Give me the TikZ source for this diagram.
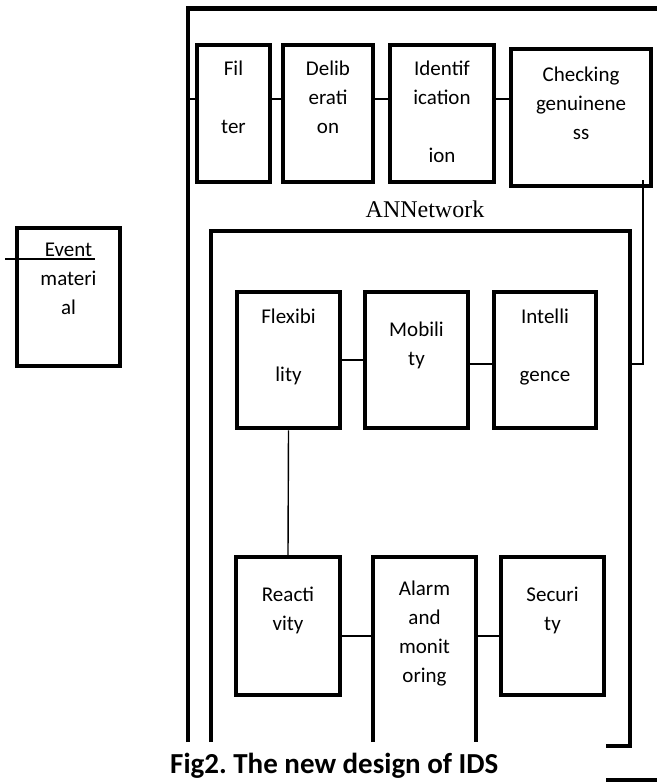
\documentclass[tikz,border=0pt]{standalone}
\usepackage{fontspec}
\setmainfont{Carlito}
\newfontfamily\annfont{Liberation Serif}

\begin{document}
\begin{tikzpicture}[x=1pt, y=-1pt,
  blk/.style={draw, line width=4.5pt, inner sep=0pt},
  txt/.style={anchor=north, align=center, inner sep=0pt,
    font=\fontsize{21}{29}\selectfont, execute at begin node={\rule{0pt}{16pt}}},
  link/.style={line width=1.4pt},
  frame/.style={line width=4.5pt}]
\useasboundingbox (0,0) rectangle (657,782);

% outer frame and the ANNetwork frame
\coordinate (outtop) at (188,8.5);
\draw[frame] (188,742) -- (outtop) -- (657,8.5);
\draw[frame] (211,742) -- (211,231) -- (630,231) -- (630,746) -- (606,746);
\draw[frame] (606,780) -- (657,780);
\node[anchor=base, inner sep=0pt, font=\annfont\fontsize{24}{28}\selectfont] (annlabel) at (425,217) {ANNetwork};

% event material
\node[blk, minimum width=103pt, minimum height=138pt] (event) at (68.5,297) {};
\node[txt] (eventtxt) at (68.5,243) {Event\\materi\\al};
\coordinate (evl) at (5,259);
\coordinate (evr) at (95,259);
\draw[link] (evl) -- (evr);

% top row
\node[blk, minimum width=73pt, minimum height=137pt] (filt) at (233.5,113.5) {};
\node[blk, minimum width=90pt, minimum height=137pt] (delib) at (328,113.5) {};
\node[blk, minimum width=104pt, minimum height=137pt] (ident) at (442,113.5) {};
\node[blk, minimum width=140pt, minimum height=137pt] (check) at (581,117.5) {};
\node[txt] (filttxt) at (233.5,61) {Fil\\\mbox{}\\ter};
\node[txt] (delibtxt) at (328,61) {Delib\\erati\\on};
\node[txt] (identtxt) at (442,61) {Identif\\ication\\\mbox{}\\ion};
\node[txt] (checktxt) at (581,67) {Checking\\genuinene\\ss};
\coordinate (inlet) at (188,99);
\draw[link] (inlet) -- (filt.west |- inlet);
\draw[link] (filt.east |- inlet) -- (delib.west |- inlet);
\draw[link] (delib.east |- inlet) -- (ident.west |- inlet);
\draw[link] (ident.east |- inlet) -- (check.west |- inlet);

% inner row one
\node[blk, minimum width=103pt, minimum height=136pt] (flex) at (288.5,360) {};
\node[blk, minimum width=103pt, minimum height=136pt] (mob) at (416.5,360) {};
\node[blk, minimum width=102pt, minimum height=136pt] (intel) at (545,360) {};
\node[txt] (flextxt) at (288.5,309) {Flexibi\\\mbox{}\\lity};
\node[txt] (mobtxt) at (416.5,322) {Mobili\\ty};
\node[txt] (inteltxt) at (545,309) {Intelli\\\mbox{}\\gence};
\draw[link] (flex.east |- 0,360) -- (mob.west |- 0,360);
\draw[link] (mob.east |- 0,364) -- (intel.west |- 0,364);

% inner row two
\node[blk, minimum width=104pt, minimum height=138pt] (react) at (288,626) {};
\node[blk, minimum width=103pt, minimum height=138pt] (secur) at (552.5,626) {};
\coordinate (alarmtop) at (424.5,557);
\draw[frame] (373,742) -- (373,557) -- (476,557) -- (476,742);
\node[txt] (reacttxt) at (288,587) {Reacti\\vity};
\node[txt] (alarmtxt) at (424.5,581) {Alarm\\and\\monit\\oring};
\node[txt] (securtxt) at (552.5,587) {Securi\\ty};
\draw[link] (flex.south) -- (react.north);
\draw[link] (react.east |- 0,636) -- (373,636);
\draw[link] (476,636) -- (secur.west |- 0,636);

% from checking down to the ANNetwork frame
\coordinate (chkdrop) at (643,180);
\draw[link] (chkdrop) |- (630,364);

\node[anchor=base west, inner sep=0pt, font=\bfseries\fontsize{29}{34}\selectfont] (caption) at (170,773) {\frenchspacing Fig2. The new design of IDS};
\end{tikzpicture}
\end{document}
